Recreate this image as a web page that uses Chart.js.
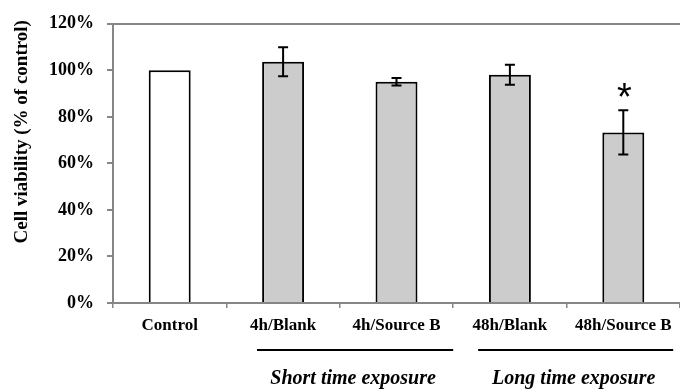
<!DOCTYPE html>
<html>
<head>
<meta charset="utf-8">
<script src="https://cdn.jsdelivr.net/npm/chart.js@4/dist/chart.umd.min.js"></script>
<style>
    body { margin: 0; background: #fff; }
    #wrap { width: 680px; height: 389px; }
</style>
</head>
<body>
<div id="wrap"><canvas id="chart"></canvas></div>
<script>
const categories = ['Control', '4h/Blank', '4h/Source B', '48h/Blank', '48h/Source B'];
const viability = [100, 103.7, 95.1, 98.1, 73.3];
const errors = [0, 6.2, 1.6, 4.3, 9.5];
const significant = [false, false, false, false, true];
const barColors = ['#ffffff', '#cccccc', '#cccccc', '#cccccc', '#cccccc'];
const groupLabels = ['Short time exposure', 'Long time exposure'];
const groupSpans = [[0.77, 2.5], [2.72, 4.44]];
const yTitle = 'Cell viability (% of control)';

const serif = '"Liberation Serif", "Times New Roman", serif';
Chart.defaults.font.family = serif;
Chart.defaults.color = '#000';

const extras = {
    id: 'extras',
    afterDatasetsDraw(chart) {
        const { ctx, scales: { x, y } } = chart;
        ctx.save();

        // error bars
        ctx.strokeStyle = '#000';
        ctx.lineWidth = 2;
        viability.forEach((v, i) => {
            if (!errors[i]) {
                return;
            }
            const cx = x.getPixelForValue(i);
            const top = y.getPixelForValue(v + errors[i]);
            const bottom = y.getPixelForValue(v - errors[i]);
            ctx.beginPath();
            ctx.moveTo(cx, top);
            ctx.lineTo(cx, bottom);
            ctx.moveTo(cx - 5, top);
            ctx.lineTo(cx + 5, top);
            ctx.moveTo(cx - 5, bottom);
            ctx.lineTo(cx + 5, bottom);
            ctx.stroke();
        });

        // significance marks
        ctx.fillStyle = '#000';
        ctx.font = '38px "Liberation Sans", Arial, sans-serif';
        ctx.textAlign = 'center';
        ctx.textBaseline = 'alphabetic';
        significant.forEach((s, i) => {
            if (!s) {
                return;
            }
            const cx = x.getPixelForValue(i);
            const top = y.getPixelForValue(viability[i] + errors[i]);
            ctx.fillText('*', cx + 1, top);
        });
        ctx.restore();
    },
    afterDraw(chart) {
        const { ctx, scales: { x }, chartArea } = chart;
        ctx.save();

        // group brackets under the axis
        ctx.strokeStyle = '#000';
        ctx.lineWidth = 2;
        ctx.fillStyle = '#000';
        ctx.textAlign = 'center';
        ctx.textBaseline = 'middle';
        ctx.font = 'italic bold 20px ' + serif;
        groupSpans.forEach(([from, to], i) => {
            const x0 = x.getPixelForValue(from);
            const x1 = x.getPixelForValue(to);
            const ly = chartArea.bottom + 47;
            ctx.beginPath();
            ctx.moveTo(x0, ly);
            ctx.lineTo(x1, ly);
            ctx.stroke();
            ctx.fillText(groupLabels[i], (x0 + x1) / 2 - 2, chartArea.bottom + 76);
        });

        // y axis title
        ctx.translate(22, chartArea.top + 108);
        ctx.rotate(-Math.PI / 2);
        ctx.font = 'bold 19px ' + serif;
        ctx.fillText(yTitle, 0, 0);
        ctx.restore();
    },
};

new Chart(document.getElementById('chart'), {
    type: 'bar',
    data: {
        labels: categories,
        datasets: [
            {
                data: viability,
                backgroundColor: barColors,
                borderColor: '#000',
                borderWidth: 2,
                categoryPercentage: 1,
                barPercentage: 0.37,
            },
        ],
    },
    options: {
        responsive: true,
        maintainAspectRatio: false,
        animation: false,
        layout: {
            padding: { top: 23, right: 0, left: 0, bottom: 0 },
        },
        plugins: {
            legend: { display: false },
            tooltip: { enabled: false },
        },
        scales: {
            x: {
                offset: true,
                afterFit: (scale) => {
                    scale.height = 86;
                },
                grid: {
                    offset: true,
                    drawOnChartArea: false,
                    tickLength: 5,
                    tickColor: '#868686',
                    lineWidth: 1.5,
                },
                border: { color: '#868686', width: 2 },
                ticks: {
                    padding: 7,
                    font: { size: 17, weight: 'bold' },
                },
            },
            y: {
                min: 0,
                max: 120,
                afterFit: (scale) => {
                    scale.width = 113;
                },
                grid: {
                    color: (c) => (c.tick && c.tick.value === 120 ? '#868686' : 'rgba(0,0,0,0)'),
                    lineWidth: 2,
                    tickLength: 6,
                    tickColor: '#868686',
                },
                border: { color: '#868686', width: 2 },
                ticks: {
                    stepSize: 20,
                    padding: 13,
                    font: { size: 18, weight: 'bold' },
                    callback: (v) => v + '%',
                },
            },
        },
    },
    plugins: [extras],
});
</script>
</body>
</html>
